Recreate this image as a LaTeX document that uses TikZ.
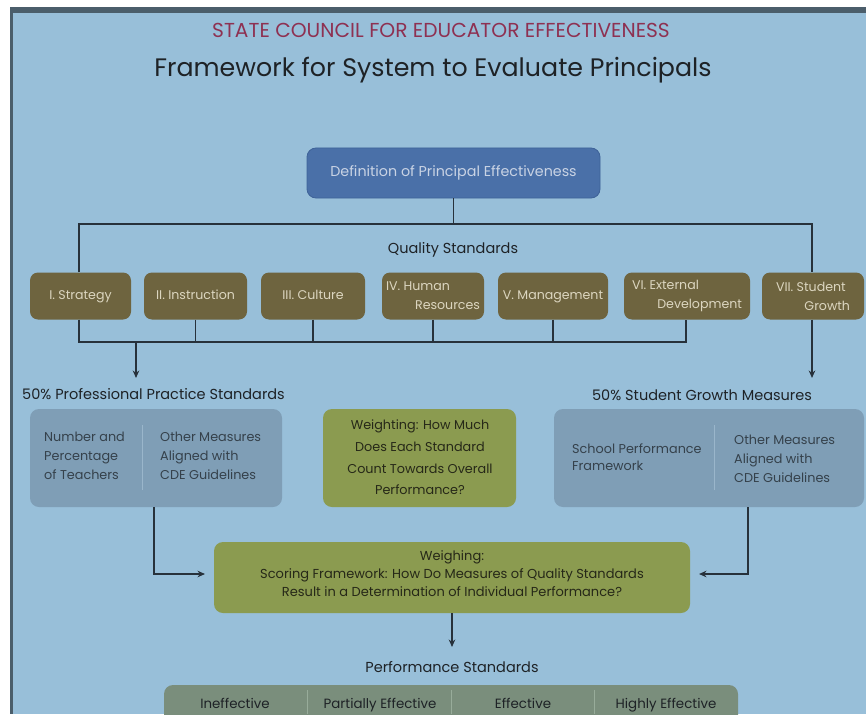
\documentclass[tikz,border=0pt]{standalone}
\usepackage{fontspec}
\setmainfont{Poppins}
\usetikzlibrary{arrows.meta}
\definecolor{bgblue}{HTML}{98BFD9}
\definecolor{frame}{HTML}{4B5E6B}
\definecolor{maroon}{HTML}{8E3152}
\definecolor{titlecol}{HTML}{1E2226}
\definecolor{defblue}{HTML}{4A70A8}
\definecolor{defedge}{HTML}{3E6298}
\definecolor{deftext}{HTML}{C9D3E4}
\definecolor{brown}{HTML}{6E643F}
\definecolor{browntext}{HTML}{DCD6C0}
\definecolor{grayblue}{HTML}{7F9EB6}
\definecolor{graytext}{HTML}{35414B}
\definecolor{divline}{HTML}{9AB6CB}
\definecolor{olive}{HTML}{8B9B50}
\definecolor{olivetext}{HTML}{262818}
\definecolor{barcol}{HTML}{7A8E7C}
\definecolor{bardiv}{HTML}{98AC9A}
\definecolor{linecol}{HTML}{27313B}
\newcommand\twoline[3]{\parbox{#1}{\setlength\baselineskip{19pt}\noindent #2\par\noindent\hfill #3}}
\tikzset{
  x=1pt, y=-1pt,
  conn/.style={draw=linecol, line width=1.4pt},
  arr/.style={conn, -{Stealth[length=7.5pt,width=6.5pt]}},
  defbox/.style={draw=defedge, line width=0.8pt, fill=defblue, rounded corners=9pt, text=deftext, font=\fontsize{14.3}{17}\selectfont},
  stdbox/.style={fill=brown, rounded corners=8pt, text=browntext, font=\fontsize{12.6}{19}\selectfont, minimum height=47pt, inner sep=0pt},
  onebox/.style={stdbox, text height=9pt, text depth=3pt},
  measbox/.style={fill=grayblue, rounded corners=9pt, minimum height=98pt, inner sep=0pt},
  measure/.style={text=graytext, font=\fontsize{12.8}{19}\selectfont, align=left, anchor=west, inner sep=0pt},
  olivebox/.style={fill=olive, rounded corners=9pt, inner sep=0pt},
  olivetxt/.style={text=olivetext, inner sep=0pt, align=center},
  heading/.style={text=titlecol, font=\fontsize{14.5}{17}\selectfont, inner sep=0pt},
  levtext/.style={text=titlecol, font=\fontsize{13.4}{16}\selectfont, inner sep=0pt, anchor=base},
}
\begin{document}
\begin{tikzpicture}
\useasboundingbox (0,0) rectangle (866,714);
\fill[white] (0,0) rectangle (866,714);
\fill[frame] (10,7) rectangle (866,13);
\fill[frame] (10,7) rectangle (13,714);
\fill[bgblue] (13,13) rectangle (866,714);

% titles
\node[text=maroon, font=\fontsize{20.2}{24}\selectfont, inner sep=0pt] (sub) at (441,30) {STATE COUNCIL FOR EDUCATOR EFFECTIVENESS};
\node[text=titlecol, font=\fontsize{25.3}{30}\selectfont, inner sep=0pt] (title) at (433,70) {Framework for System to Evaluate Principals};

% definition
\node[defbox, minimum width=293pt, minimum height=50pt] (def) at (453.5,173) {Definition of Principal Effectiveness};

\node[heading] (qs) at (453,250) {Quality Standards};

% standards
\node[onebox, minimum width=101pt] (s1) at (80.5,296) {I. Strategy};
\node[onebox, minimum width=103pt] (s2) at (195.5,296) {II. Instruction};
\node[onebox, minimum width=104pt] (s3) at (313,296) {III. Culture};
\node[stdbox, minimum width=102pt] (s4) at (433,296) {\twoline{94pt}{IV. Human}{Resources}};
\node[onebox, minimum width=110pt] (s5) at (553,296) {V. Management};
\node[stdbox, minimum width=126pt] (s6) at (687,296) {\twoline{110pt}{VI. External}{Development}};
\node[stdbox, minimum width=102pt] (s7) at (813,296) {\twoline{74pt}{VII. Student}{Growth}};

% top bus
\coordinate (tb) at (0,224);
\draw[conn] (def.south) -- (def.south |- tb);
\draw[conn] ([xshift=-1.5pt]s1.north) -- ([xshift=-1.5pt]s1.north |- tb) -- ([xshift=-1pt]s7.north |- tb) -- ([xshift=-1pt]s7.north);

% bottom bus
\coordinate (bb) at (0,342);
\draw[conn] ([xshift=-1.5pt]s1.south) -- ([xshift=-1.5pt]s1.south |- bb) -- ([xshift=-1pt]s6.south |- bb) -- ([xshift=-1pt]s6.south);
\draw[conn] (s2.south) -- (s2.south |- bb);
\draw[conn] (s3.south) -- (s3.south |- bb);
\draw[conn] (s4.south) -- (s4.south |- bb);
\draw[conn] (s5.south) -- (s5.south |- bb);

% section headings
\node[heading, anchor=west] (pps) at (22,394) {50\% Professional Practice Standards};
\node[heading] (sgm) at (702,395) {50\% Student Growth Measures};
\coordinate (ppsarr) at (136,342);
\draw[arr] (ppsarr) -- (136,378);
\coordinate (sgmarr) at (812,378);
\draw[arr] ([xshift=-1pt]s7.south) -- (sgmarr);

% measure boxes
\node[measbox, minimum width=252pt] (lg) at (156,458) {};
\draw[divline, line width=1pt] (142,425) -- (142,490);
\node[measure] (lg1) at (44,456) {Number and\\Percentage\\of Teachers};
\node[measure] (lg2) at (160,456) {Other Measures\\Aligned with\\CDE Guidelines};

\node[olivebox, minimum width=193pt, minimum height=98pt] (wc) at (419.5,458) {};
\node[olivetxt, font=\fontsize{12.8}{21.7}\selectfont] (wct) at (420,457.5) {Weighting: How Much\\Does Each Standard\\Count Towards Overall\\Performance?};

\node[measbox, minimum width=310pt] (rg) at (709,458) {};
\draw[divline, line width=1pt] (714,425) -- (714,490);
\node[measure, font=\fontsize{12.8}{17}\selectfont] (rg1) at (572,457.5) {School Performance\\Framework};
\node[measure] (rg2) at (734,458.5) {Other Measures\\Aligned with\\CDE Guidelines};

% scoring box
\node[olivebox, minimum width=476pt, minimum height=71pt] (wb) at (452,577.5) {};
\node[olivetxt, font=\fontsize{13}{18}\selectfont] (wbt) at (452,573.5) {Weighing:\\Scoring Framework: How Do Measures of Quality Standards\\Result in a Determination of Individual Performance?};

\coordinate (lgl) at (154,507);
\draw[arr] (lgl) -- (154,574) -- (205,574);
\coordinate (rgl) at (748,507);
\draw[arr] (rgl) -- (748,574) -- (699,574);
\draw[arr] (wb.south) -- (452,647);

\node[heading] (ps) at (452,667) {Performance Standards};

% levels bar
\begin{scope}
\clip (0,0) rectangle (866,714);
\fill[barcol, rounded corners=9pt] (164,685) rectangle (738,740);
\end{scope}
\draw[bardiv, line width=1pt] (307.5,690) -- (307.5,714);
\draw[bardiv, line width=1pt] (451,690) -- (451,714);
\draw[bardiv, line width=1pt] (594.5,690) -- (594.5,714);
\node[levtext] (l1) at (235,708) {Ineffective};
\node[levtext] (l2) at (380,708) {Partially Effective};
\node[levtext] (l3) at (523,708) {Effective};
\node[levtext] (l4) at (666,708) {Highly Effective};
\end{tikzpicture}
\end{document}
